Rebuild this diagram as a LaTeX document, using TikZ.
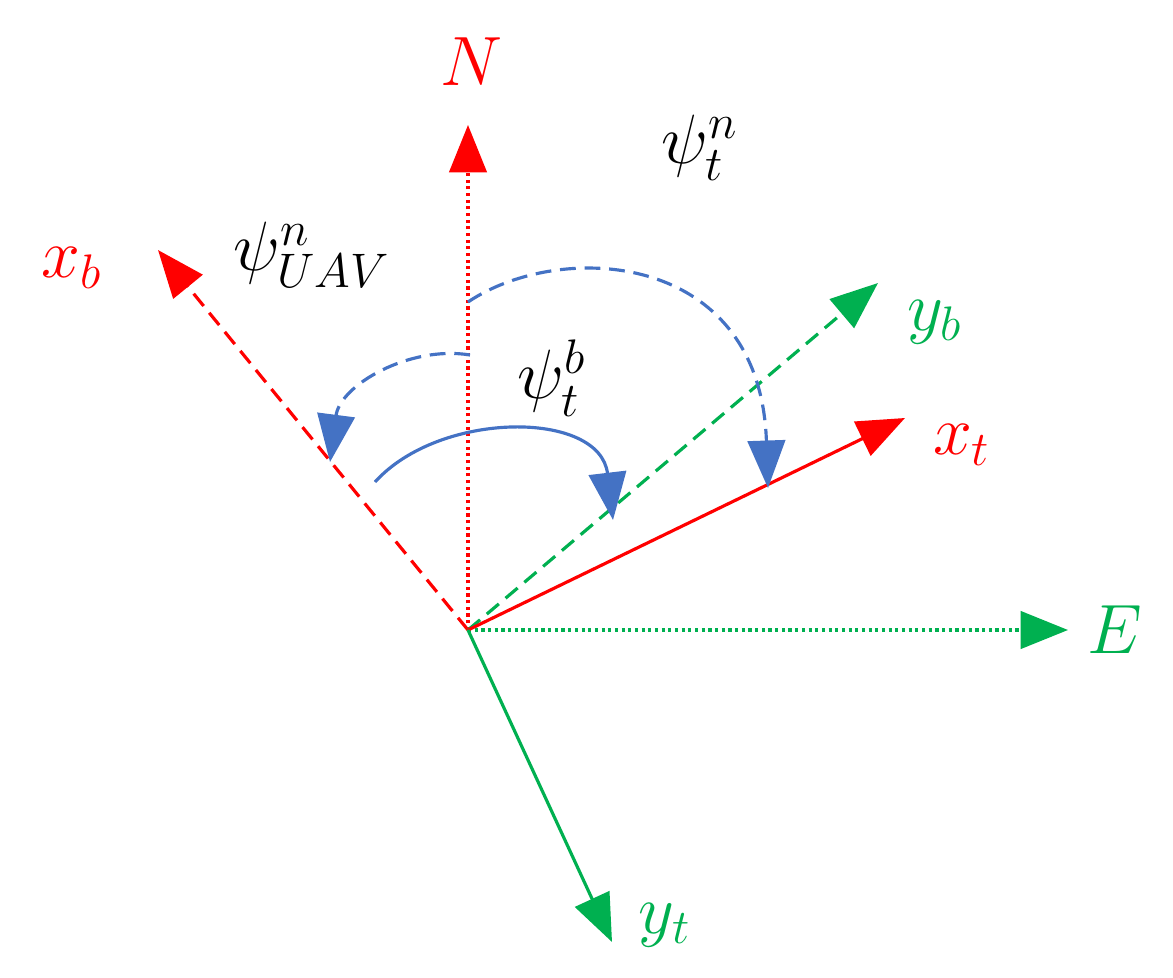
\documentclass[tikz,border=0pt]{standalone}
\usetikzlibrary{arrows.meta}
\definecolor{cred}{RGB}{255,0,0}
\definecolor{cgreen}{RGB}{0,176,80}
\definecolor{cblue}{RGB}{68,114,196}
\newcommand{\mylab}[1]{\scalebox{2.3}{\LARGE$#1$}}
\begin{document}
\begin{tikzpicture}[x=0.02cm,y=-0.02cm,
  ax/.style={line width=1.8pt,-{Triangle[length=0.95cm,width=0.75cm]}},
  arc/.style={line width=1.8pt,cblue,-{Triangle[length=0.95cm,width=0.75cm]}},
  lab/.style={inner sep=0pt},
  mydash/.style={dash pattern=on 9pt off 5pt}]
\useasboundingbox (0,0) rectangle (1173,977);
\coordinate (O) at (468,630);
\coordinate (Ntip) at (468,125);
\coordinate (Etip) at (1068,630);
\coordinate (xbtip) at (158,250);
\coordinate (ybtip) at (878,283);
\coordinate (xttip) at (905,418);
\coordinate (yttip) at (612,942);
\draw[ax,cred,dotted] (O) -- (Ntip);
\draw[ax,cgreen,dotted] (O) -- (Etip);
\draw[ax,cred,mydash] (O) -- (xbtip);
\draw[ax,cgreen,mydash] (O) -- (ybtip);
\draw[ax,cred] (O) -- (xttip);
\draw[ax,cgreen] (O) -- (yttip);
\node[lab,cred] (N) at (472,62) {\mylab{N}};
\node[lab,cgreen] (E) at (1115,630) {\mylab{E}};
\node[lab,cred] (xb) at (72,268) {\mylab{x_b}};
\node[lab,cgreen] (yb) at (935,322) {\mylab{y_b}};
\node[lab,cred] (xt) at (962,445) {\mylab{x_t}};
\node[lab,cgreen] (yt) at (665,925) {\mylab{y_t}};
\node[lab] (pu) at (312,255) {\mylab{\psi^n_{UAV}}};
\node[lab] (pt) at (700,148) {\mylab{\psi^n_t}};
\node[lab] (pb) at (552,378) {\mylab{\psi^b_t}};
\coordinate (a1s) at (468,302);
\coordinate (a1e) at (768,488);
\coordinate (a2s) at (470,355);
\coordinate (a2e) at (330,462);
\coordinate (a3s) at (375,482);
\coordinate (a3e) at (613,520);
\draw[arc,mydash] (a1s) .. controls (560,240) and (760,250) .. (a1e);
\draw[arc,mydash] (a2s) .. controls (410,345) and (340,385) .. (a2e);
\draw[arc] (a3s) .. controls (440,410) and (600,410) .. (a3e);
\end{tikzpicture}
\end{document}
